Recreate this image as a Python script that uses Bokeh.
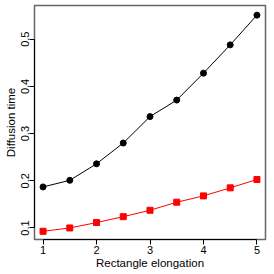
from bokeh.plotting import figure
from bokeh.embed import file_html
from bokeh.resources import INLINE
from bokeh.models import Range1d, FixedTicker

elongation = [1, 1.5, 2, 2.5, 3, 3.5, 4, 4.5, 5]
time_black = [0.187, 0.201, 0.236, 0.280, 0.336, 0.371, 0.428, 0.488, 0.551]
time_red = [0.093, 0.100, 0.1115, 0.124, 0.1376, 0.1546, 0.168, 0.185, 0.2027]
x_ticks = [1, 2, 3, 4, 5]
y_ticks = [0.1, 0.2, 0.3, 0.4, 0.5]

p = figure(width=277, height=279, output_backend="svg", toolbar_location=None,
           x_range=Range1d(0.84, 5.16), y_range=Range1d(0.0756, 0.5714),
           min_border_left=42, min_border_right=4, min_border_top=13, min_border_bottom=30,
           styles={"margin-left": "-8px", "margin-top": "-8px", "margin-bottom": "-8px", "margin-right": "-8px"})
p.background_fill_color = "white"
p.border_fill_color = "white"
p.outline_line_color = "#666666"
p.outline_line_width = 1.5
p.grid.visible = False

p.line(elongation, time_black, line_color="black", line_width=1)
p.scatter(elongation, time_black, marker="circle", size=6, fill_color="black", line_color="black")
p.line(elongation, time_red, line_color="red", line_width=1)
p.scatter(elongation, time_red, marker="square", size=6, fill_color="red", line_color="red")

for ax in (p.xaxis[0], p.yaxis[0]):
    ax.minor_tick_line_color = None
    ax.major_tick_in = 0
    ax.major_tick_out = 5
    ax.axis_line_color = "black"
    ax.major_tick_line_color = "black"
    ax.major_label_text_font = "Liberation Sans"
    ax.major_label_text_font_size = "11px"
    ax.major_label_text_color = "black"
    ax.axis_label_text_font = "Liberation Sans"
    ax.axis_label_text_font_size = "11.5px"
    ax.axis_label_text_font_style = "normal"
    ax.axis_label_text_color = "black"
    ax.major_label_standoff = 0
    ax.axis_label_standoff = 0

p.xaxis[0].major_label_standoff = 1
p.yaxis[0].axis_label_standoff = 2
p.xaxis[0].ticker = FixedTicker(ticks=x_ticks)
p.yaxis[0].ticker = FixedTicker(ticks=y_ticks)
p.xaxis[0].bounds = (1, 5)
p.yaxis[0].bounds = (0.1, 0.5)
p.yaxis[0].major_label_orientation = "vertical"
p.xaxis[0].axis_label = "Rectangle elongation"
p.yaxis[0].axis_label = "Diffusion time"

open("out.html", "w").write(file_html(p, INLINE))
